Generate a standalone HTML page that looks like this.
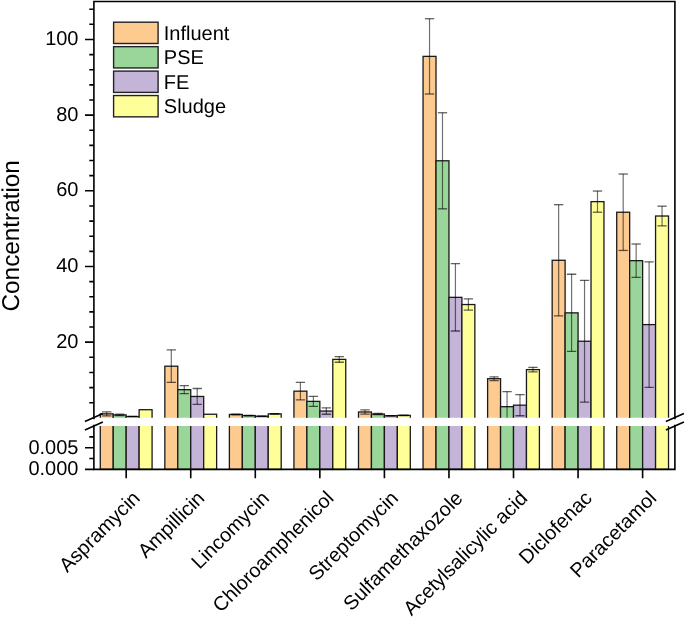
<!DOCTYPE html>
<html><head><meta charset="utf-8"><style>
html,body{margin:0;padding:0;background:#fff;width:685px;height:617px;overflow:hidden}
.c{stroke-width:1.3;stroke-opacity:0.62}
text{font-family:"Liberation Sans", sans-serif;text-rendering:geometricPrecision}
svg{-webkit-font-smoothing:antialiased;will-change:transform}
</style></head><body>
<svg width="685" height="617" viewBox="0 0 685 617" style="display:block">
<rect width="685" height="617" fill="#fff"/>
<defs><clipPath id="cu"><rect x="0" y="0" width="685" height="417.8"/></clipPath><clipPath id="cl"><rect x="0" y="426.0" width="685" height="191.0"/></clipPath></defs>
<g clip-path="url(#cu)"><rect x="100.28" y="413.87" width="12.95" height="6.93" fill="#fdca90" stroke="#1a1a1a" stroke-width="1.3"/><rect x="113.23" y="414.93" width="12.95" height="5.87" fill="#9ad69a" stroke="#1a1a1a" stroke-width="1.3"/><rect x="126.18" y="416.52" width="12.95" height="4.28" fill="#c4b4d8" stroke="#1a1a1a" stroke-width="1.3"/><rect x="139.13" y="409.71" width="12.95" height="11.09" fill="#ffff99" stroke="#1a1a1a" stroke-width="1.3"/><rect x="164.83" y="366.20" width="12.95" height="54.60" fill="#fdca90" stroke="#1a1a1a" stroke-width="1.3"/><rect x="177.78" y="389.66" width="12.95" height="31.14" fill="#9ad69a" stroke="#1a1a1a" stroke-width="1.3"/><rect x="190.73" y="396.47" width="12.95" height="24.33" fill="#c4b4d8" stroke="#1a1a1a" stroke-width="1.3"/><rect x="203.68" y="414.25" width="12.95" height="6.55" fill="#ffff99" stroke="#1a1a1a" stroke-width="1.3"/><rect x="229.39" y="414.43" width="12.95" height="6.37" fill="#fdca90" stroke="#1a1a1a" stroke-width="1.3"/><rect x="242.34" y="415.57" width="12.95" height="5.23" fill="#9ad69a" stroke="#1a1a1a" stroke-width="1.3"/><rect x="255.29" y="416.25" width="12.95" height="4.55" fill="#c4b4d8" stroke="#1a1a1a" stroke-width="1.3"/><rect x="268.24" y="413.87" width="12.95" height="6.93" fill="#ffff99" stroke="#1a1a1a" stroke-width="1.3"/><rect x="293.94" y="391.17" width="12.95" height="29.63" fill="#fdca90" stroke="#1a1a1a" stroke-width="1.3"/><rect x="306.89" y="401.38" width="12.95" height="19.42" fill="#9ad69a" stroke="#1a1a1a" stroke-width="1.3"/><rect x="319.84" y="411.03" width="12.95" height="9.77" fill="#c4b4d8" stroke="#1a1a1a" stroke-width="1.3"/><rect x="332.79" y="359.39" width="12.95" height="61.41" fill="#ffff99" stroke="#1a1a1a" stroke-width="1.3"/><rect x="358.50" y="411.98" width="12.95" height="8.82" fill="#fdca90" stroke="#1a1a1a" stroke-width="1.3"/><rect x="371.45" y="414.06" width="12.95" height="6.74" fill="#9ad69a" stroke="#1a1a1a" stroke-width="1.3"/><rect x="384.40" y="415.76" width="12.95" height="5.04" fill="#c4b4d8" stroke="#1a1a1a" stroke-width="1.3"/><rect x="397.35" y="415.38" width="12.95" height="5.42" fill="#ffff99" stroke="#1a1a1a" stroke-width="1.3"/><rect x="423.06" y="56.37" width="12.95" height="364.43" fill="#fdca90" stroke="#1a1a1a" stroke-width="1.3"/><rect x="436.01" y="160.78" width="12.95" height="260.02" fill="#9ad69a" stroke="#1a1a1a" stroke-width="1.3"/><rect x="448.96" y="297.35" width="12.95" height="123.45" fill="#c4b4d8" stroke="#1a1a1a" stroke-width="1.3"/><rect x="461.91" y="304.54" width="12.95" height="116.26" fill="#ffff99" stroke="#1a1a1a" stroke-width="1.3"/><rect x="487.61" y="378.69" width="12.95" height="42.11" fill="#fdca90" stroke="#1a1a1a" stroke-width="1.3"/><rect x="500.56" y="406.68" width="12.95" height="14.12" fill="#9ad69a" stroke="#1a1a1a" stroke-width="1.3"/><rect x="513.51" y="405.17" width="12.95" height="15.63" fill="#c4b4d8" stroke="#1a1a1a" stroke-width="1.3"/><rect x="526.46" y="369.61" width="12.95" height="51.19" fill="#ffff99" stroke="#1a1a1a" stroke-width="1.3"/><rect x="552.17" y="260.28" width="12.95" height="160.52" fill="#fdca90" stroke="#1a1a1a" stroke-width="1.3"/><rect x="565.12" y="312.86" width="12.95" height="107.94" fill="#9ad69a" stroke="#1a1a1a" stroke-width="1.3"/><rect x="578.07" y="341.23" width="12.95" height="79.57" fill="#c4b4d8" stroke="#1a1a1a" stroke-width="1.3"/><rect x="591.02" y="201.64" width="12.95" height="219.16" fill="#ffff99" stroke="#1a1a1a" stroke-width="1.3"/><rect x="616.72" y="212.23" width="12.95" height="208.57" fill="#fdca90" stroke="#1a1a1a" stroke-width="1.3"/><rect x="629.67" y="260.66" width="12.95" height="160.14" fill="#9ad69a" stroke="#1a1a1a" stroke-width="1.3"/><rect x="642.62" y="324.59" width="12.95" height="96.21" fill="#c4b4d8" stroke="#1a1a1a" stroke-width="1.3"/><rect x="655.57" y="216.02" width="12.95" height="204.78" fill="#ffff99" stroke="#1a1a1a" stroke-width="1.3"/><g stroke="#000" stroke-opacity="0.56" stroke-width="1.2" fill="none"><path d="M106.75 411.79V415.95"/><path class="c" d="M102.10 411.79h9.3"/><path class="c" d="M102.10 415.95h9.3"/><path d="M119.70 414.17V415.68"/><path class="c" d="M115.05 414.17h9.3"/><path class="c" d="M115.05 415.68h9.3"/><path d="M132.65 416.33V416.70"/><path class="c" d="M128.00 416.33h9.3"/><path class="c" d="M128.00 416.70h9.3"/><path d="M171.31 349.93V382.47"/><path class="c" d="M166.66 349.93h9.3"/><path class="c" d="M166.66 382.47h9.3"/><path d="M184.26 385.68V393.63"/><path class="c" d="M179.61 385.68h9.3"/><path class="c" d="M179.61 393.63h9.3"/><path d="M197.21 388.52V404.41"/><path class="c" d="M192.56 388.52h9.3"/><path class="c" d="M192.56 404.41h9.3"/><path d="M235.86 414.06V414.81"/><path class="c" d="M231.21 414.06h9.3"/><path class="c" d="M231.21 414.81h9.3"/><path d="M248.81 415.38V415.76"/><path class="c" d="M244.16 415.38h9.3"/><path class="c" d="M244.16 415.76h9.3"/><path d="M261.76 416.14V416.36"/><path class="c" d="M257.11 416.14h9.3"/><path class="c" d="M257.11 416.36h9.3"/><path d="M274.71 413.68V414.06"/><path class="c" d="M270.06 413.68h9.3"/><path class="c" d="M270.06 414.06h9.3"/><path d="M300.42 382.47V399.87"/><path class="c" d="M295.77 382.47h9.3"/><path class="c" d="M295.77 399.87h9.3"/><path d="M313.37 396.47V406.30"/><path class="c" d="M308.72 396.47h9.3"/><path class="c" d="M308.72 406.30h9.3"/><path d="M326.32 407.81V414.25"/><path class="c" d="M321.67 407.81h9.3"/><path class="c" d="M321.67 414.25h9.3"/><path d="M339.27 356.55V362.23"/><path class="c" d="M334.62 356.55h9.3"/><path class="c" d="M334.62 362.23h9.3"/><path d="M364.98 409.89V414.06"/><path class="c" d="M360.33 409.89h9.3"/><path class="c" d="M360.33 414.06h9.3"/><path d="M377.93 413.49V414.62"/><path class="c" d="M373.28 413.49h9.3"/><path class="c" d="M373.28 414.62h9.3"/><path d="M390.88 415.57V415.95"/><path class="c" d="M386.23 415.57h9.3"/><path class="c" d="M386.23 415.95h9.3"/><path d="M403.83 415.19V415.57"/><path class="c" d="M399.18 415.19h9.3"/><path class="c" d="M399.18 415.57h9.3"/><path d="M429.53 18.73V94.01"/><path class="c" d="M424.88 18.73h9.3"/><path class="c" d="M424.88 94.01h9.3"/><path d="M442.48 112.74V208.83"/><path class="c" d="M437.83 112.74h9.3"/><path class="c" d="M437.83 208.83h9.3"/><path d="M455.43 263.68V331.02"/><path class="c" d="M450.78 263.68h9.3"/><path class="c" d="M450.78 331.02h9.3"/><path d="M468.38 298.86V310.21"/><path class="c" d="M463.73 298.86h9.3"/><path class="c" d="M463.73 310.21h9.3"/><path d="M494.09 376.79V380.58"/><path class="c" d="M489.44 376.79h9.3"/><path class="c" d="M489.44 380.58h9.3"/><path d="M507.04 391.55V418.80"/><path class="c" d="M502.39 391.55h9.3"/><path d="M519.99 394.57V415.76"/><path class="c" d="M515.34 394.57h9.3"/><path class="c" d="M515.34 415.76h9.3"/><path d="M532.94 367.34V371.88"/><path class="c" d="M528.29 367.34h9.3"/><path class="c" d="M528.29 371.88h9.3"/><path d="M558.64 204.67V315.89"/><path class="c" d="M553.99 204.67h9.3"/><path class="c" d="M553.99 315.89h9.3"/><path d="M571.59 274.27V351.45"/><path class="c" d="M566.94 274.27h9.3"/><path class="c" d="M566.94 351.45h9.3"/><path d="M584.54 280.33V402.14"/><path class="c" d="M579.89 280.33h9.3"/><path class="c" d="M579.89 402.14h9.3"/><path d="M597.49 191.05V212.23"/><path class="c" d="M592.84 191.05h9.3"/><path class="c" d="M592.84 212.23h9.3"/><path d="M623.20 174.02V250.44"/><path class="c" d="M618.55 174.02h9.3"/><path class="c" d="M618.55 250.44h9.3"/><path d="M636.15 244.01V277.30"/><path class="c" d="M631.50 244.01h9.3"/><path class="c" d="M631.50 277.30h9.3"/><path d="M649.10 261.79V387.39"/><path class="c" d="M644.45 261.79h9.3"/><path class="c" d="M644.45 387.39h9.3"/><path d="M662.05 206.18V225.85"/><path class="c" d="M657.40 206.18h9.3"/><path class="c" d="M657.40 225.85h9.3"/></g></g>
<g clip-path="url(#cl)"><rect x="100.28" y="423.00" width="12.95" height="46.40" fill="#fdca90" stroke="#1a1a1a" stroke-width="1.3"/><rect x="113.23" y="423.00" width="12.95" height="46.40" fill="#9ad69a" stroke="#1a1a1a" stroke-width="1.3"/><rect x="126.18" y="423.00" width="12.95" height="46.40" fill="#c4b4d8" stroke="#1a1a1a" stroke-width="1.3"/><rect x="139.13" y="423.00" width="12.95" height="46.40" fill="#ffff99" stroke="#1a1a1a" stroke-width="1.3"/><rect x="164.83" y="423.00" width="12.95" height="46.40" fill="#fdca90" stroke="#1a1a1a" stroke-width="1.3"/><rect x="177.78" y="423.00" width="12.95" height="46.40" fill="#9ad69a" stroke="#1a1a1a" stroke-width="1.3"/><rect x="190.73" y="423.00" width="12.95" height="46.40" fill="#c4b4d8" stroke="#1a1a1a" stroke-width="1.3"/><rect x="203.68" y="423.00" width="12.95" height="46.40" fill="#ffff99" stroke="#1a1a1a" stroke-width="1.3"/><rect x="229.39" y="423.00" width="12.95" height="46.40" fill="#fdca90" stroke="#1a1a1a" stroke-width="1.3"/><rect x="242.34" y="423.00" width="12.95" height="46.40" fill="#9ad69a" stroke="#1a1a1a" stroke-width="1.3"/><rect x="255.29" y="423.00" width="12.95" height="46.40" fill="#c4b4d8" stroke="#1a1a1a" stroke-width="1.3"/><rect x="268.24" y="423.00" width="12.95" height="46.40" fill="#ffff99" stroke="#1a1a1a" stroke-width="1.3"/><rect x="293.94" y="423.00" width="12.95" height="46.40" fill="#fdca90" stroke="#1a1a1a" stroke-width="1.3"/><rect x="306.89" y="423.00" width="12.95" height="46.40" fill="#9ad69a" stroke="#1a1a1a" stroke-width="1.3"/><rect x="319.84" y="423.00" width="12.95" height="46.40" fill="#c4b4d8" stroke="#1a1a1a" stroke-width="1.3"/><rect x="332.79" y="423.00" width="12.95" height="46.40" fill="#ffff99" stroke="#1a1a1a" stroke-width="1.3"/><rect x="358.50" y="423.00" width="12.95" height="46.40" fill="#fdca90" stroke="#1a1a1a" stroke-width="1.3"/><rect x="371.45" y="423.00" width="12.95" height="46.40" fill="#9ad69a" stroke="#1a1a1a" stroke-width="1.3"/><rect x="384.40" y="423.00" width="12.95" height="46.40" fill="#c4b4d8" stroke="#1a1a1a" stroke-width="1.3"/><rect x="397.35" y="423.00" width="12.95" height="46.40" fill="#ffff99" stroke="#1a1a1a" stroke-width="1.3"/><rect x="423.06" y="423.00" width="12.95" height="46.40" fill="#fdca90" stroke="#1a1a1a" stroke-width="1.3"/><rect x="436.01" y="423.00" width="12.95" height="46.40" fill="#9ad69a" stroke="#1a1a1a" stroke-width="1.3"/><rect x="448.96" y="423.00" width="12.95" height="46.40" fill="#c4b4d8" stroke="#1a1a1a" stroke-width="1.3"/><rect x="461.91" y="423.00" width="12.95" height="46.40" fill="#ffff99" stroke="#1a1a1a" stroke-width="1.3"/><rect x="487.61" y="423.00" width="12.95" height="46.40" fill="#fdca90" stroke="#1a1a1a" stroke-width="1.3"/><rect x="500.56" y="423.00" width="12.95" height="46.40" fill="#9ad69a" stroke="#1a1a1a" stroke-width="1.3"/><rect x="513.51" y="423.00" width="12.95" height="46.40" fill="#c4b4d8" stroke="#1a1a1a" stroke-width="1.3"/><rect x="526.46" y="423.00" width="12.95" height="46.40" fill="#ffff99" stroke="#1a1a1a" stroke-width="1.3"/><rect x="552.17" y="423.00" width="12.95" height="46.40" fill="#fdca90" stroke="#1a1a1a" stroke-width="1.3"/><rect x="565.12" y="423.00" width="12.95" height="46.40" fill="#9ad69a" stroke="#1a1a1a" stroke-width="1.3"/><rect x="578.07" y="423.00" width="12.95" height="46.40" fill="#c4b4d8" stroke="#1a1a1a" stroke-width="1.3"/><rect x="591.02" y="423.00" width="12.95" height="46.40" fill="#ffff99" stroke="#1a1a1a" stroke-width="1.3"/><rect x="616.72" y="423.00" width="12.95" height="46.40" fill="#fdca90" stroke="#1a1a1a" stroke-width="1.3"/><rect x="629.67" y="423.00" width="12.95" height="46.40" fill="#9ad69a" stroke="#1a1a1a" stroke-width="1.3"/><rect x="642.62" y="423.00" width="12.95" height="46.40" fill="#c4b4d8" stroke="#1a1a1a" stroke-width="1.3"/><rect x="655.57" y="423.00" width="12.95" height="46.40" fill="#ffff99" stroke="#1a1a1a" stroke-width="1.3"/></g>
<g stroke="#000" stroke-width="1.6" fill="none" stroke-linecap="square">
<path d="M93.9 418.5V1.5H674.9V418.5"/>
<path d="M93.9 425.5V469.4H674.9V425.5"/>
</g>
<path d="M89.3 402.71H93.9M89.3 387.58H93.9M89.3 372.44H93.9M89.3 357.31H93.9M85 342.17H93.9M89.3 327.03H93.9M89.3 311.90H93.9M89.3 296.76H93.9M89.3 281.63H93.9M85 266.49H93.9M89.3 251.35H93.9M89.3 236.22H93.9M89.3 221.08H93.9M89.3 205.95H93.9M85 190.81H93.9M89.3 175.67H93.9M89.3 160.54H93.9M89.3 145.40H93.9M89.3 130.27H93.9M85 115.13H93.9M89.3 99.99H93.9M89.3 84.86H93.9M89.3 69.72H93.9M89.3 54.59H93.9M85 39.45H93.9M89.3 24.31H93.9M89.3 9.18H93.9M85 469.40H93.9M89.3 458.55H93.9M85 447.70H93.9M89.3 436.85H93.9M126.18 469.4V478.2M190.73 469.4V478.2M255.29 469.4V478.2M319.84 469.4V478.2M384.40 469.4V478.2M448.96 469.4V478.2M513.51 469.4V478.2M578.07 469.4V478.2M642.62 469.4V478.2" stroke="#000" stroke-width="1.6" fill="none"/>
<path d="M84.9 421.6L102.9 413.6M84.9 430L102.9 422" stroke="#000" stroke-width="1.6" fill="none"/>
<path d="M665.9 421.6L683.9 413.6M665.9 430L683.9 422" stroke="#000" stroke-width="1.6" fill="none"/>
<g font-family='"Liberation Sans", sans-serif' font-size="20" fill="#000" text-anchor="end">
<text x="78.5" y="45.05">100</text>
<text x="78.5" y="120.73">80</text>
<text x="78.5" y="196.41">60</text>
<text x="78.5" y="272.09">40</text>
<text x="78.5" y="347.77">20</text>
<text x="78.5" y="453.90">0.005</text>
<text x="78.5" y="475.20">0.000</text>
</g>
<text font-family='"Liberation Sans", sans-serif' font-size="24.3" text-anchor="middle" transform="translate(18.7 235.8) rotate(-90)">Concentration</text>
<g font-family='"Liberation Sans", sans-serif' font-size="20" text-anchor="end">
<text transform="translate(141.18 499.3) rotate(-45)">Aspramycin</text>
<text transform="translate(205.73 499.3) rotate(-45)">Ampillicin</text>
<text transform="translate(270.29 499.3) rotate(-45)">Lincomycin</text>
<text transform="translate(334.84 499.3) rotate(-45)">Chloroamphenicol</text>
<text transform="translate(399.40 499.3) rotate(-45)">Streptomycin</text>
<text transform="translate(463.96 499.3) rotate(-45)">Sulfamethaxozole</text>
<text transform="translate(528.51 499.3) rotate(-45)">Acetylsalicylic acid</text>
<text transform="translate(593.07 499.3) rotate(-45)">Diclofenac</text>
<text transform="translate(657.62 499.3) rotate(-45)">Paracetamol</text>
</g>
<g stroke="#222" stroke-width="1.4">
<rect x="113.6" y="22.20" width="44.5" height="21.3" fill="#fdca90"/>
<rect x="113.6" y="46.65" width="44.5" height="21.3" fill="#9ad69a"/>
<rect x="113.6" y="71.10" width="44.5" height="21.3" fill="#c4b4d8"/>
<rect x="113.6" y="95.55" width="44.5" height="21.3" fill="#ffff99"/>
</g>
<g font-family='"Liberation Sans", sans-serif' font-size="20">
<text x="163.8" y="39.70">Influent</text>
<text x="163.8" y="64.15">PSE</text>
<text x="163.8" y="88.60">FE</text>
<text x="163.8" y="113.05">Sludge</text>
</g>
</svg>
</body></html>
